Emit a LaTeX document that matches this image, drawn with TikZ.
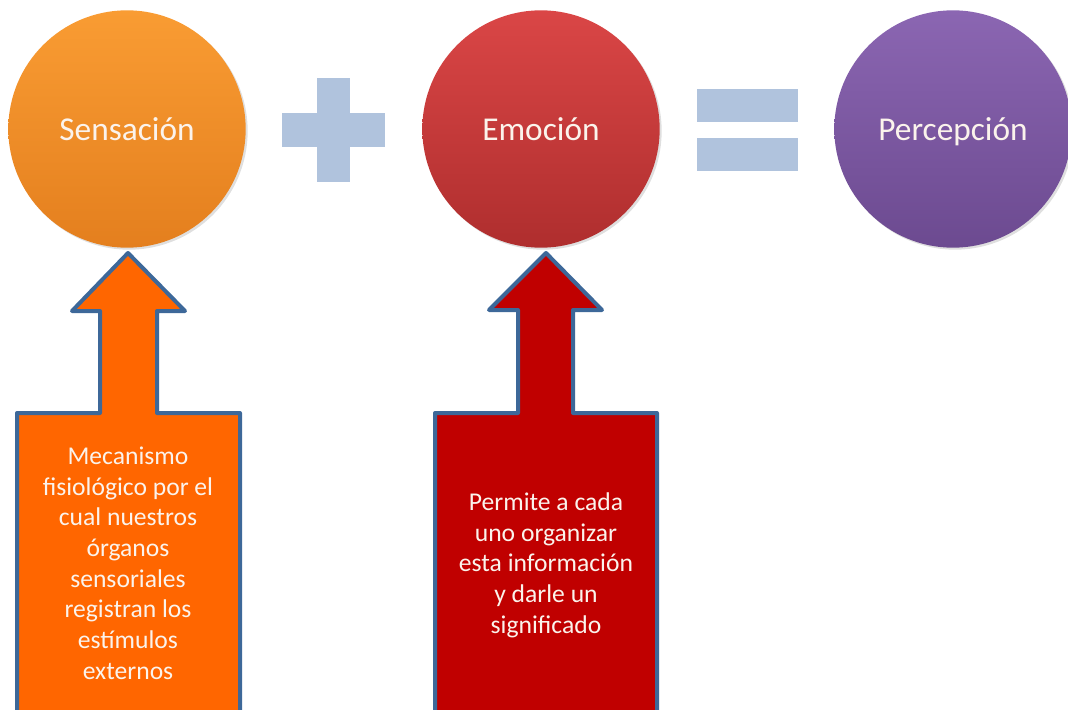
\documentclass[tikz,border=0pt]{standalone}
\usepackage{fontspec}
\setmainfont{Carlito}
\usetikzlibrary{shadows}
\definecolor{orTop}{HTML}{F99C33}
\definecolor{orBot}{HTML}{E47F1E}
\definecolor{rdTop}{HTML}{DA4646}
\definecolor{rdBot}{HTML}{AF2E2E}
\definecolor{puTop}{HTML}{8B66B2}
\definecolor{puBot}{HTML}{6C4A90}
\definecolor{opsym}{HTML}{B0C3DD}
\definecolor{edge}{HTML}{3D6899}
\definecolor{arrOr}{HTML}{FF6600}
\definecolor{arrRd}{HTML}{C00000}
\definecolor{txt}{HTML}{FBF3EC}
\tikzset{
  bubble/.style={circle, inner sep=0pt, minimum size=178pt, text=txt,
    text depth=0pt,
    font=\fontsize{25}{30}\selectfont,
    drop shadow={opacity=0.25, shadow xshift=1.5pt, shadow yshift=-1.5pt}},
  callout/.style={draw=edge, line width=3pt, line join=round},
  calltext/.style={align=center, text=txt, inner sep=0pt,
    font=\fontsize{19.2}{23}\selectfont},
  opbar/.style={fill=opsym, draw=none}
}
\begin{document}
\begin{tikzpicture}[x=0.75pt, y=-0.75pt]
\useasboundingbox (0,0) rectangle (1068,710);
\clip (0,0) rectangle (1068,710);
% circles
\node[bubble, top color=orTop, bottom color=orBot] (sens) at (127,129) {Sensación};
\node[bubble, top color=rdTop, bottom color=rdBot] (emo) at (541,129) {Emoción};
\node[bubble, top color=puTop, bottom color=puBot] (perc) at (953,129) {Percepción};
% plus
\fill[opbar] (282,113) rectangle (385,147);
\fill[opbar] (317,78) rectangle (350,182);
% equals
\fill[opbar] (697,89) rectangle (798,122);
\fill[opbar] (697,138) rectangle (798,171);
% callout arrows
\coordinate (tipA) at (128,253);
\coordinate (tipB) at (546,253);
\filldraw[callout, fill=arrOr] (tipA) -- (185,311) -- (157,311) -- (157,413) -- (240,413)
  -- (240,725) -- (17,725) -- (17,413) -- (100,413) -- (100,311) -- (72,311) -- cycle;
\filldraw[callout, fill=arrRd] (tipB) -- (602,310) -- (573,310) -- (573,413) -- (657,413)
  -- (657,725) -- (435,725) -- (435,413) -- (518,413) -- (518,310) -- (489,310) -- cycle;
\node[calltext] (t1) at (128,563) {Mecanismo\\fisiológico por el\\cual nuestros\\órganos\\sensoriales\\registran los\\estímulos\\externos};
\node[calltext] (t2) at (546,565) {Permite a cada\\uno organizar\\esta información\\y darle un\\significado};
\end{tikzpicture}
\end{document}
